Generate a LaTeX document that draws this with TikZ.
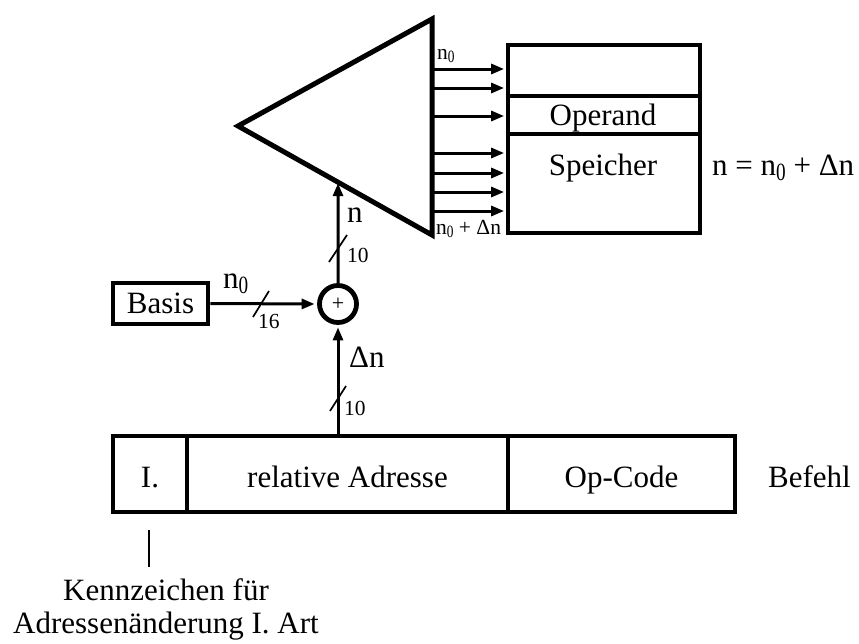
\documentclass[tikz,border=0pt]{standalone}
\usepackage{fontspec}
\setmainfont{Liberation Serif}
\usetikzlibrary{arrows.meta}
% lowered, narrowed index digit in the current text size
\newcommand\idx[1]{\raisebox{-0.17em}{\scalebox{0.62}[0.8]{#1}}}
\begin{document}
\begin{tikzpicture}[x=1pt,y=-1pt,
  big/.style={font=\fontsize{31}{37}\selectfont, inner sep=0pt},
  small/.style={font=\fontsize{21.5}{26}\selectfont, inner sep=0pt},
  box/.style={draw, line width=4.8pt, inner sep=0pt},
  wire/.style={line width=3pt, -{Triangle[length=13pt,width=10pt]}},
  busmark/.style={line width=1.7pt},
  thinline/.style={line width=1.7pt},
]
\useasboundingbox (0,0) rectangle (859,643);

% address decoder
\coordinate (tt) at (432,19);
\coordinate (tb) at (432,235);
\coordinate (ta) at (238,126);
\draw[line width=5pt, line join=miter] (tt) -- (tb) -- (ta) -- cycle;

% memory
\node[box, minimum width=192pt, minimum height=188pt] (mem) at (604,139) {};
\coordinate (d1) at (0,96);
\coordinate (d2) at (0,134);
\draw[line width=4pt] (mem.west |- d1) -- (mem.east |- d1);
\draw[line width=4pt] (mem.west |- d2) -- (mem.east |- d2);
\node[big, anchor=base] (op) at (603,125) {Operand};
\node[big, anchor=base] (sp) at (603,175) {Speicher};
\node[big, anchor=base west] (eq) at (712,175) {n = n\idx{0} + Δn};

% decoder outputs
\foreach \y/\nm in {69/1,88/2,116/3,153/4,173/5,192/6,211/7}{
  \coordinate (o\nm) at (432,\y);
  \draw[wire, shorten >=1.5pt] (o\nm) -- (mem.west |- o\nm);
}
\node[small, anchor=base west] (lfirst) at (437,59) {n\idx{0}};
\node[small, anchor=base west] (llast) at (436,234) {n\idx{0} + Δn};

% adder
\node[draw, circle, line width=4.8pt, minimum size=37pt, inner sep=0pt,
      font=\fontsize{22}{26}\selectfont] (sum) at (338,304) {+};

% base register
\node[box, big, minimum width=95pt, minimum height=41pt] (basis) at (160.5,303.5) {Basis};
\draw[wire, shorten >=2.5pt] (basis.east) -- (sum.west);
\node[big, anchor=base west] (ln0) at (223,288) {n\idx{0}};
\coordinate (s16a) at (253,317);
\coordinate (s16b) at (269,291);
\draw[busmark] (s16a) -- (s16b);
\node[small, anchor=base west] (w16) at (258,328) {16};

% adder to decoder
\coordinate (up) at (338,0);
\coordinate (hit) at (intersection of sum--up and ta--tb);
\draw[wire, shorten >=1pt] (sum.north) -- (hit);
\node[big, anchor=base west] (ln) at (347,222) {n};
\coordinate (s10a) at (329,262);
\coordinate (s10b) at (347,235);
\draw[busmark] (s10a) -- (s10b);
\node[small, anchor=base west] (w10a) at (347,262) {10};

% instruction word
\node[box, minimum width=74pt, minimum height=76pt] (fI) at (150,474) {};
\node[box, minimum width=321pt, minimum height=76pt] (fRel) at (347.5,474) {};
\node[box, minimum width=227pt, minimum height=76pt] (fOp) at (621.5,474) {};
\node[big, anchor=base] (tI) at (fI |- 0,487) {I.};
\node[big, anchor=base] (tRel) at (fRel |- 0,487) {relative Adresse};
\node[big, anchor=base] (tOp) at (fOp |- 0,487) {Op-Code};
\node[big, anchor=base west] (tBef) at (768,487) {Befehl};

% relative address to adder
\draw[wire, shorten >=2.5pt] (sum |- fRel.north) -- (sum.south);
\node[big, anchor=base west] (ldn) at (349,367) {Δn};
\coordinate (s10c) at (330,411);
\coordinate (s10d) at (346,386);
\draw[busmark] (s10c) -- (s10d);
\node[small, anchor=base west] (w10b) at (344,415) {10};

% flag annotation
\coordinate (k1) at (149,530);
\coordinate (k2) at (149,567);
\draw[thinline] (k1) -- (k2);
\node[big, anchor=base] (kz1) at (166,600) {Kennzeichen für};
\node[big, anchor=base] (kz2) at (166,633) {Adressenänderung I. Art};
\end{tikzpicture}
\end{document}
